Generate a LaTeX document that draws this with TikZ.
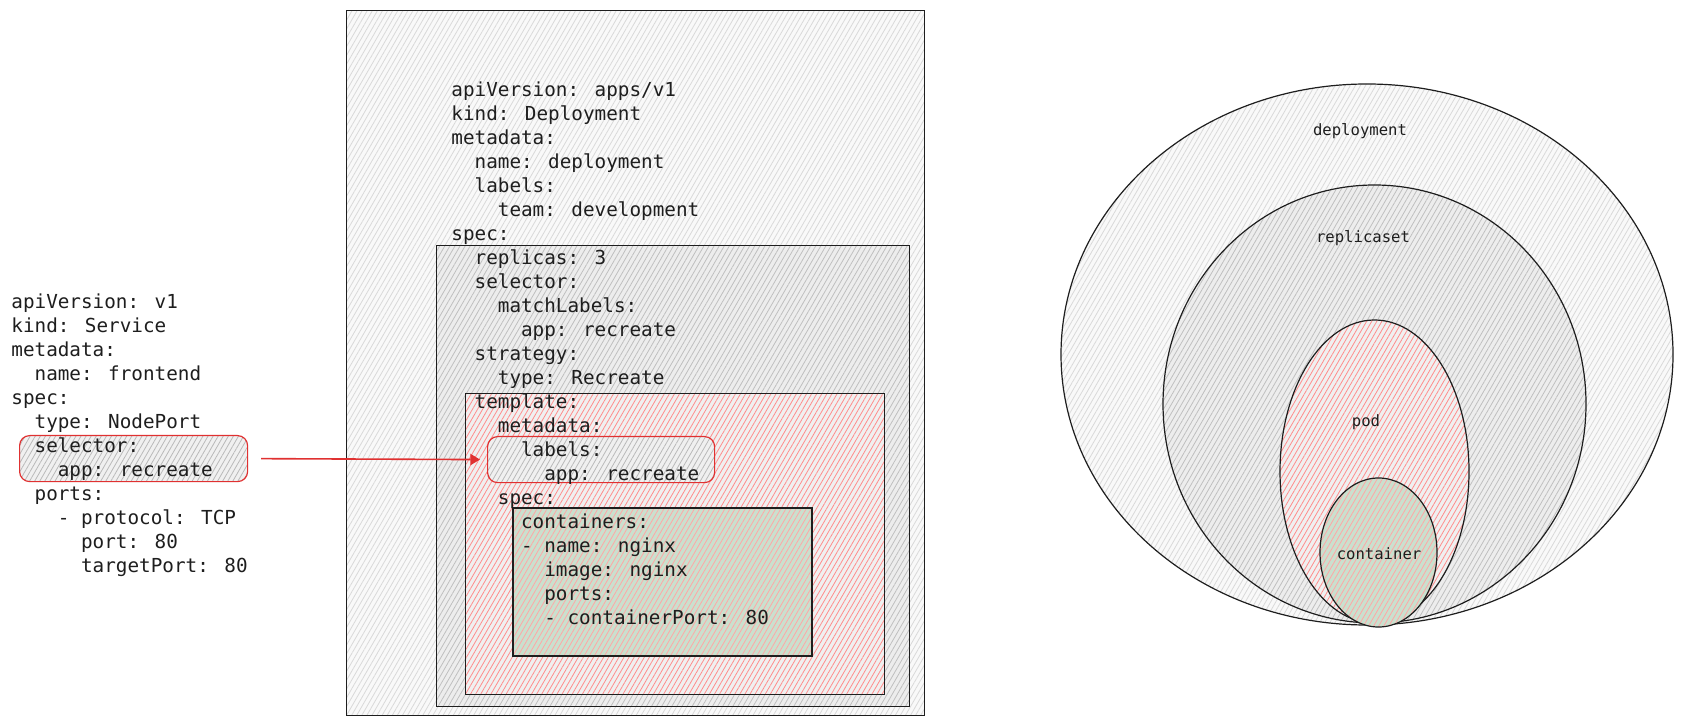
\documentclass[tikz,border=0pt]{standalone}
\usepackage{fontspec}
\newfontfamily\codefont{DejaVu Sans Mono}
\usetikzlibrary{arrows.meta,patterns.meta,shapes.geometric}

\definecolor{exred}{HTML}{E03131}
\definecolor{exink}{HTML}{1E1E1E}
\definecolor{exgreen}{HTML}{8CD49A}
\newcommand{\indnt}[1]{\hspace*{#1\dimexpr0.602em\relax}}

\begin{document}
\begin{tikzpicture}[%
    x=0.5pt, y=-0.5pt,
    >=Triangle,
    hatch/.style 2 args={preaction={fill=#1},
      pattern={Lines[angle=60,distance=2.2pt,line width=0.4pt]},
      pattern color=#2},
    box/.style={draw=exink, line width=0.6pt, inner sep=0pt, anchor=north west},
    selbox/.style={draw=exred, line width=0.6pt, rounded corners=5pt,
      inner sep=0pt, anchor=north west, hatch={gray!12}{gray!55}},
    blob/.style={ellipse, draw=exink, line width=0.6pt, inner sep=0pt},
    code/.style={font=\codefont\fontsize{9.65}{12}\selectfont, align=left,
      inner sep=0pt, anchor=north west, text=exink},
    tag/.style={font=\codefont\fontsize{7.8}{9}\selectfont, text=exink}
    ]
    \useasboundingbox (0,0) rectangle (1684,726);

    % deployment manifest
    \node[box, hatch={gray!5}{gray!30}, minimum width=289pt, minimum height=352.5pt] (deplbox) at (346,10) {};
    \node[box, hatch={gray!14}{gray!50}, minimum width=236.5pt, minimum height=230.5pt] (specbox) at (436,245) {};
    \node[box, hatch={gray!12}{red!45}, minimum width=209.5pt, minimum height=150.5pt] (tmplbox) at (465,393) {};
    \node[box, line width=1pt, hatch={exgreen!70!gray!45}{red!35}, minimum width=149.5pt, minimum height=74pt] (contbox) at (512,507) {};
    \node[selbox, minimum width=113.5pt, minimum height=23pt] (lblbox) at (487,436) {};

    \node[code] (depltxt) at (451,81) {%
      apiVersion: apps/v1\\
      kind: Deployment\\
      metadata:\\
      \indnt{2}name: deployment\\
      \indnt{2}labels:\\
      \indnt{4}team: development\\
      spec:\\
      \indnt{2}replicas: 3\\
      \indnt{2}selector:\\
      \indnt{4}matchLabels:\\
      \indnt{6}app: recreate\\
      \indnt{2}strategy:\\
      \indnt{4}type: Recreate\\
      \indnt{2}template:\\
      \indnt{4}metadata:\\
      \indnt{6}labels:\\
      \indnt{8}app: recreate\\
      \indnt{4}spec:\\
      \indnt{6}containers:\\
      \indnt{6}- name: nginx\\
      \indnt{8}image: nginx\\
      \indnt{8}ports:\\
      \indnt{8}- containerPort: 80};

    % service manifest
    \node[selbox, minimum width=114pt, minimum height=23pt] (svcsel) at (19,435) {};
    \node[code] (svctxt) at (11,293) {%
      apiVersion: v1\\
      kind: Service\\
      metadata:\\
      \indnt{2}name: frontend\\
      spec:\\
      \indnt{2}type: NodePort\\
      \indnt{2}selector:\\
      \indnt{4}app: recreate\\
      \indnt{2}ports:\\
      \indnt{4}- protocol: TCP\\
      \indnt{6}port: 80\\
      \indnt{6}targetPort: 80};

    \draw[->, exred, line width=0.8pt, shorten <=6.5pt, shorten >=3.5pt] (svcsel.east) -- (lblbox.west);

    % nested objects
    \node[blob, hatch={gray!5}{gray!30}, minimum width=306pt, minimum height=270.5pt] (depl) at (1367,354.5) {};
    \node[blob, hatch={gray!14}{gray!50}, minimum width=211.5pt, minimum height=219pt] (rs) at (1374.5,404) {};
    \node[blob, hatch={gray!12}{red!45}, minimum width=94.5pt, minimum height=151.5pt] (pod) at (1374.5,471.5) {};
    \node[blob, hatch={exgreen!70!gray!45}{red!35}, minimum width=58.5pt, minimum height=74.5pt] (cont) at (1378.5,552.5) {};

    \node[tag] (depllbl) at (1360,131) {deployment};
    \node[tag] (rslbl) at (1363,238) {replicaset};
    \node[tag] (podlbl) at (1366,422) {pod};
    \node[tag] (contlbl) at (1379,554) {container};

    \end{tikzpicture}
\end{document}
